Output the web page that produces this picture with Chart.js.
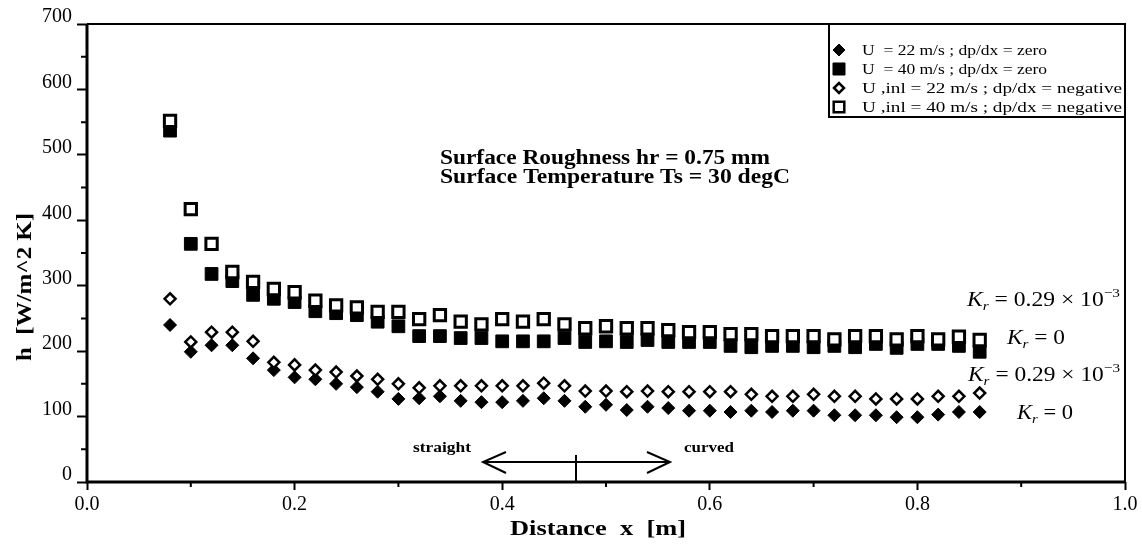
<!DOCTYPE html>
<html lang="en">
<head>
<meta charset="UTF-8">
<title>Heat transfer coefficient vs distance</title>
<script src="https://cdn.jsdelivr.net/npm/chart.js@4"></script>
<style>
    html, body { margin: 0; padding: 0; background: #fff; }
    #wrap { width: 1142px; height: 546px; }
</style>
</head>
<body>
<div id="wrap"><canvas id="hChart" width="1142" height="546"></canvas></div>
<script>
// distance x [m] of each measuring station
const distance = [0.08, 0.10, 0.12, 0.14, 0.16, 0.18, 0.20, 0.22, 0.24, 0.26,
                  0.28, 0.30, 0.32, 0.34, 0.36, 0.38, 0.40, 0.42, 0.44, 0.46,
                  0.48, 0.50, 0.52, 0.54, 0.56, 0.58, 0.60, 0.62, 0.64, 0.66,
                  0.68, 0.70, 0.72, 0.74, 0.76, 0.78, 0.80, 0.82, 0.84, 0.86];

// h [W/m^2 K]
const hU22Zero = [240, 199, 209, 209, 189, 171, 160, 157, 150, 145,
                  138, 127, 128, 131, 124, 122, 122, 124, 128, 124,
                  115, 118, 110, 115, 113, 109, 109, 107, 109, 107,
                  109, 109, 102, 102, 102, 99, 99, 103, 107, 107];
const hU40Zero = [537, 364, 318, 307, 286, 280, 275, 261, 258, 255,
                  245, 238, 223, 223, 220, 220, 215, 215, 215, 220,
                  214, 215, 214, 217, 214, 214, 214, 208, 206, 208,
                  208, 206, 208, 206, 211, 205, 211, 211, 208, 199];
const hU22Neg  = [280, 214, 229, 229, 215, 183, 179, 171, 168, 162,
                  157, 150, 144, 147, 147, 147, 147, 147, 151, 147,
                  139, 139, 138, 139, 138, 138, 138, 138, 134, 131,
                  131, 134, 131, 131, 127, 127, 127, 131, 131, 136];
const hU40Neg  = [552, 417, 364, 321, 306, 295, 290, 277, 270, 267,
                  260, 260, 249, 255, 245, 241, 249, 245, 249, 241,
                  235, 238, 235, 235, 232, 229, 229, 226, 226, 223,
                  223, 223, 218, 223, 223, 218, 223, 218, 222, 217];

const xTicks = [0, 0.2, 0.4, 0.6, 0.8, 1.0];
const yTicks = [0, 100, 200, 300, 400, 500, 600, 700];
const xMinor = [0.1, 0.3, 0.5, 0.7, 0.9];
const yMinor = [50, 150, 250, 350, 450, 550, 650];

const seriesNames = [
    'U  = 22 m/s ; dp/dx = zero',
    'U  = 40 m/s ; dp/dx = zero',
    'U ,inl = 22 m/s ; dp/dx = negative',
    'U ,inl = 40 m/s ; dp/dx = negative'
];

const SERIF = '"Liberation Serif", "DejaVu Serif", serif';

function pts(ys) {
    return distance.map((x, i) => ({ x: x, y: ys[i] }));
}

// draw a run of text pieces [text, font, dy], squeezed to a given width
function drawRich(ctx, pieces, x, y, width) {
    ctx.save();
    ctx.fillStyle = '#000';
    ctx.textBaseline = 'alphabetic';
    ctx.textAlign = 'left';
    let total = 0;
    pieces.forEach(p => { ctx.font = p[1]; total += ctx.measureText(p[0]).width; });
    ctx.translate(x, y);
    ctx.scale(width ? width / total : 1, 1);
    let cx = 0;
    pieces.forEach(p => {
        ctx.font = p[1];
        ctx.fillText(p[0], cx, p[2] || 0);
        cx += ctx.measureText(p[0]).width;
    });
    ctx.restore();
}

function krLabel(ctx, value, x, y, width) {
    const pieces = [['K', 'italic 20px ' + SERIF], ['r', 'italic 13px ' + SERIF, 4]];
    if (value) {
        pieces.push([' = 0.29 \u00d7 10', '20px ' + SERIF]);
        pieces.push(['\u22123', '13px ' + SERIF, -9]);
    } else {
        pieces.push([' = 0', '20px ' + SERIF]);
    }
    drawRich(ctx, pieces, x, y, width);
}

const styles = [
    { pointStyle: 'rectRot', radius: 6.5, backgroundColor: '#000', borderColor: '#000', borderWidth: 1 },
    { pointStyle: 'rect', radius: 9, backgroundColor: '#000', borderColor: '#000', borderWidth: 1 },
    { pointStyle: 'rectRot', radius: 5.5, backgroundColor: '#fff', borderColor: '#000', borderWidth: 2.5 },
    { pointStyle: 'rect', radius: 8, backgroundColor: '#fff', borderColor: '#000', borderWidth: 3 }
];

const extras = {
    id: 'extras',
    afterDraw(chart) {
        const ctx = chart.ctx;
        const a = chart.chartArea;
        const xs = chart.scales.x, ys = chart.scales.y;
        ctx.save();
        ctx.strokeStyle = '#000';
        ctx.fillStyle = '#000';

        // minor ticks
        ctx.lineWidth = 2;
        ctx.beginPath();
        yMinor.forEach(v => {
            const p = ys.getPixelForValue(v);
            ctx.moveTo(a.left - 6, p); ctx.lineTo(a.left, p);
        });
        xMinor.forEach(v => {
            const p = xs.getPixelForValue(v);
            ctx.moveTo(p, a.bottom); ctx.lineTo(p, a.bottom + 5);
        });
        ctx.stroke();

        // frame: heavy left/bottom, lighter top/right
        ctx.lineWidth = 2;
        ctx.beginPath();
        ctx.moveTo(a.left, a.top); ctx.lineTo(a.right, a.top); ctx.lineTo(a.right, a.bottom);
        ctx.stroke();
        ctx.lineWidth = 3;
        ctx.beginPath();
        ctx.moveTo(a.left, a.top); ctx.lineTo(a.left, a.bottom); ctx.lineTo(a.right, a.bottom);
        ctx.stroke();

        // legend box
        ctx.lineWidth = 2;
        ctx.strokeRect(829, a.top, a.right - 829, 117 - a.top);
        const rowY = [50, 69, 88, 107];
        const rowW = [185, 185, 260, 260];
        const legendStyles = [
            { pointStyle: 'rectRot', radius: 6, borderWidth: 1, fill: '#000' },
            { pointStyle: 'rect', radius: 8.5, borderWidth: 1, fill: '#000' },
            { pointStyle: 'rectRot', radius: 5, borderWidth: 2.5, fill: '#fff' },
            { pointStyle: 'rect', radius: 7.5, borderWidth: 2.5, fill: '#fff' }
        ];
        seriesNames.forEach((name, i) => {
            const st = legendStyles[i];
            ctx.fillStyle = st.fill;
            ctx.strokeStyle = '#000';
            ctx.lineWidth = st.borderWidth;
            Chart.helpers.drawPoint(ctx, { pointStyle: st.pointStyle, radius: st.radius, rotation: 0, borderWidth: st.borderWidth }, 839, rowY[i]);
            drawRich(ctx, [[name, '15px ' + SERIF]], 862, rowY[i] + 5, rowW[i]);
        });

        // annotations
        drawRich(ctx, [['Surface Roughness hr = 0.75 mm', 'bold 20px ' + SERIF]], 440, 164, 330);
        drawRich(ctx, [['Surface Temperature Ts = 30 degC', 'bold 20px ' + SERIF]], 440, 183, 350);

        krLabel(ctx, true, 967, 306, 153);
        krLabel(ctx, false, 1007, 344, 58);
        krLabel(ctx, true, 968, 381, 152);
        krLabel(ctx, false, 1017, 419, 56);

        drawRich(ctx, [['straight', 'bold 15px ' + SERIF]], 413, 452, 58);
        drawRich(ctx, [['curved', 'bold 15px ' + SERIF]], 684, 452, 50);

        // straight / curved arrow
        ctx.strokeStyle = '#000';
        ctx.lineWidth = 2;
        ctx.beginPath();
        ctx.moveTo(483, 462); ctx.lineTo(670, 462);
        ctx.moveTo(506, 452); ctx.lineTo(483, 462); ctx.lineTo(506, 473);
        ctx.moveTo(647, 452); ctx.lineTo(670, 462); ctx.lineTo(647, 473);
        ctx.moveTo(576, 455); ctx.lineTo(576, a.bottom);
        ctx.stroke();

        // axis titles
        drawRich(ctx, [['Distance  x  [m]', 'bold 22px ' + SERIF]], 510, 535, 176);
        ctx.save();
        ctx.translate(31, 361);
        ctx.rotate(-Math.PI / 2);
        drawRich(ctx, [['h  [W/m^2 K]', 'bold 20px ' + SERIF]], 0, 0, 148);
        ctx.restore();

        ctx.restore();
    }
};

const seriesData = [hU22Zero, hU40Zero, hU22Neg, hU40Neg];

new Chart(document.getElementById('hChart'), {
    type: 'scatter',
    data: {
        datasets: seriesData.map((ys, i) => ({
            label: seriesNames[i],
            data: pts(ys),
            showLine: false,
            order: i < 2 ? 1 : 0,
            pointStyle: styles[i].pointStyle,
            pointRadius: styles[i].radius,
            pointHoverRadius: styles[i].radius,
            pointBackgroundColor: styles[i].backgroundColor,
            pointBorderColor: styles[i].borderColor,
            pointBorderWidth: styles[i].borderWidth
        }))
    },
    options: {
        responsive: false,
        animation: false,
        devicePixelRatio: 1,
        layout: { padding: { top: 24, right: 17, left: 0, bottom: 0 } },
        plugins: {
            legend: { display: false },
            tooltip: { enabled: false }
        },
        scales: {
            x: {
                type: 'linear',
                min: 0,
                max: 1,
                afterBuildTicks: s => { s.ticks = xTicks.map(v => ({ value: v })); },
                afterFit: s => { s.height = 64; },
                border: { display: false },
                grid: { drawOnChartArea: false, tickLength: 8, tickWidth: 2, tickColor: '#000' },
                ticks: {
                    color: '#000',
                    font: { family: SERIF, size: 20 },
                    padding: 3,
                    maxRotation: 0,
                    autoSkip: false,
                    callback: v => v.toFixed(1)
                }
            },
            y: {
                min: 0,
                max: 700,
                afterBuildTicks: s => { s.ticks = yTicks.map(v => ({ value: v })); },
                afterFit: s => { s.width = 87; },
                border: { display: false },
                grid: { drawOnChartArea: false, tickLength: 10, tickWidth: 2, tickColor: '#000' },
                ticks: {
                    color: '#000',
                    font: { family: SERIF, size: 20 },
                    padding: 5,
                    labelOffset: -7,
                    autoSkip: false
                }
            }
        }
    },
    plugins: [extras]
});
</script>
</body>
</html>
